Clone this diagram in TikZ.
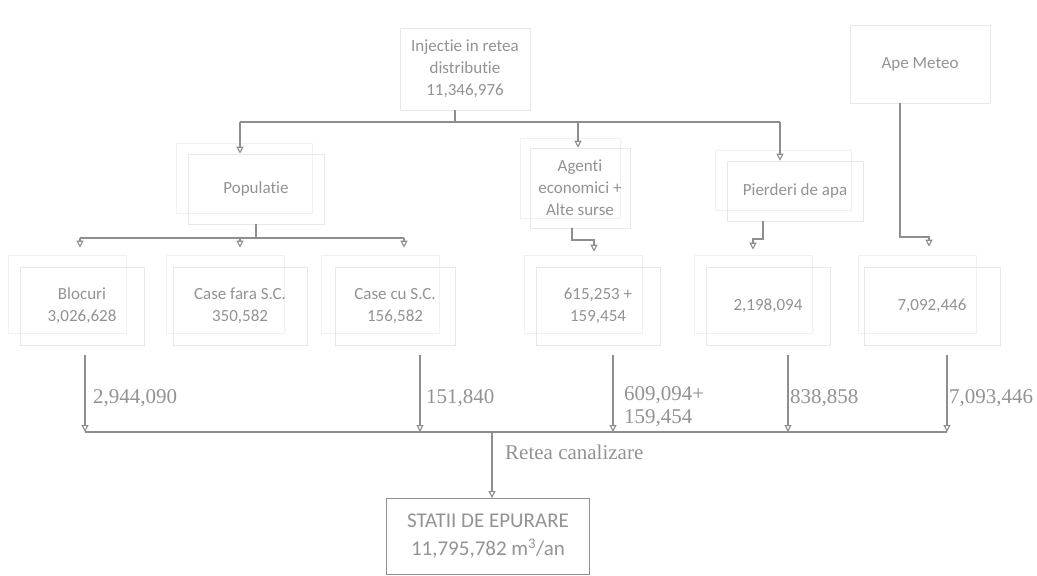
\documentclass[tikz,border=0pt]{standalone}
\usepackage{fontspec}
\setmainfont{Carlito}[Ligatures=NoCommon]
\newfontfamily\lblfont{Liberation Serif}
\usetikzlibrary{arrows.meta}
\definecolor{txt}{HTML}{939393}
\definecolor{ln}{HTML}{8E8E8E}
\definecolor{edge}{HTML}{E8E8E8}
\definecolor{back}{HTML}{F1F1F1}
\begin{document}
\begin{tikzpicture}[x=1pt,y=-1pt,
  box/.style={draw=edge, line width=0.6pt, align=center, text=txt,
    font=\fontsize{17}{22}\selectfont, inner sep=0pt},
  backbox/.style={draw=back, line width=0.6pt},
  lbl/.style={text=txt, font=\lblfont\fontsize{21}{23}\selectfont,
    inner sep=0pt, align=left},
  wire/.style={draw=ln, line width=1.1pt},
  arr/.style={wire, -{Triangle[open,length=7pt,width=7pt]}}]
\useasboundingbox (0,0) rectangle (1037,576);
\fill[white] (0,0) rectangle (1037,576);

% sources
\node[box, minimum width=130pt, minimum height=82pt] (inj) at (465,69)
  {Injectie in retea\\distributie\\11,346,976};
\node[box, minimum width=140pt, minimum height=78pt] (meteo) at (920,64) {Ape Meteo};

% consumers
\draw[backbox] (176,143) rectangle (312,213);
\node[box, minimum width=136pt, minimum height=70pt] (pop) at (256,189) {Populatie};
\draw[backbox] (520,138) rectangle (620,218);
\node[box, minimum width=100pt, minimum height=80pt] (ag) at (580,188)
  {Agenti\\economici +\\Alte surse};
\draw[backbox] (715,150) rectangle (851,210);
\node[box, minimum width=136pt, minimum height=60pt] (pier) at (795,191) {Pierderi de apa};

% volumes
\foreach \cx in {70,228,383,586,756,920}
  \draw[backbox] (\cx-62,255) rectangle (\cx+56,333);
\node[box, minimum width=124pt, minimum height=78pt] (bloc) at (82,306) {Blocuri\\3,026,628};
\node[box, minimum width=134pt, minimum height=78pt] (cfara) at (240,306) {Case fara S.C.\\350,582};
\node[box, minimum width=120pt, minimum height=78pt] (ccu) at (395,306) {Case cu S.C.\\156,582};
\node[box, minimum width=124pt, minimum height=78pt] (vag) at (598,306) {615,253 +\\159,454};
\node[box, minimum width=124pt, minimum height=78pt] (vpier) at (768,306) {2,198,094};
\node[box, minimum width=136pt, minimum height=78pt] (vmet) at (932,306) {7,092,446};

% treatment plant
\node[draw=ln, line width=0.8pt, minimum width=203pt, minimum height=76pt,
  align=center, text=txt, font=\fontsize{21}{28}\selectfont, inner sep=0pt]
  (stat) at (488,536.5) {STATII DE EPURARE\\11,795,782 m\textsuperscript{3}/an};

% distribution from injection
\coordinate (tl) at (240,122);
\coordinate (tm) at (578,122);
\coordinate (tr) at (780,122);
\coordinate (tc) at (455,122);
\draw[wire] (inj.south -| tc) -- (tc);
\draw[wire] (tl) -- (tr);
\draw[arr] (tl) -- (tl |- pop.north);
\draw[arr] (tm) -- (tm |- ag.north);
\draw[arr] (tr) -- (tr |- pier.north);

% population split
\coordinate (pl) at (80,238);
\coordinate (pm) at (240,238);
\coordinate (pr) at (404,238);
\draw[wire] (pop.south) -- (pop.south |- pl);
\draw[wire] (pl) -- (pr);
\draw[arr, shorten >=19pt] (pl) -- (pl |- bloc.north);
\draw[arr, shorten >=19pt] (pm) -- (pm |- cfara.north);
\draw[arr, shorten >=19pt] (pr) -- (pr |- ccu.north);

% economic agents, losses, rain water
\coordinate (a1) at (572,240);
\coordinate (a2) at (594,240);
\draw[arr, shorten >=15pt] (ag.south -| a1) -- (a1) -- (a2) -- (a2 |- vag.north);
\coordinate (q1) at (763,239);
\coordinate (q2) at (753,239);
\draw[arr, shorten >=17pt] (pier.south -| q1) -- (q1) -- (q2) -- (q2 |- vpier.north);
\coordinate (m1) at (900,237);
\coordinate (m2) at (929,237);
\draw[arr, shorten >=20pt] (meteo.south -| m1) -- (m1) -- (m2) -- (m2 |- vmet.north);

% sewer network
\coordinate (b1) at (85,432);
\coordinate (b2) at (420,432);
\coordinate (b3) at (613,432);
\coordinate (b4) at (788,432);
\coordinate (b5) at (947,432);
\coordinate (bc) at (492,432);
\draw[arr, shorten <=10pt] (bloc.south -| b1) -- (b1);
\draw[arr, shorten <=10pt] (ccu.south -| b2) -- (b2);
\draw[arr, shorten <=10pt] (vag.south -| b3) -- (b3);
\draw[arr, shorten <=10pt] (vpier.south -| b4) -- (b4);
\draw[arr, shorten <=10pt] (vmet.south -| b5) -- (b5);
\draw[wire] (b1) -- (b5);
\draw[arr] (bc) -- (bc |- stat.north);

% flow labels
\node[lbl, anchor=west] (f1) at (93,398) {2,944,090};
\node[lbl, anchor=west] (f2) at (426,398) {151,840};
\node[lbl, anchor=west] (f3) at (624,407) {609,094+\\159,454};
\node[lbl, anchor=west] (f4) at (790,398) {838,858};
\node[lbl, anchor=west] (f5) at (949,398) {7,093,446};
\node[lbl, anchor=west] (net) at (505,452) {Retea canalizare};
\end{tikzpicture}
\end{document}
